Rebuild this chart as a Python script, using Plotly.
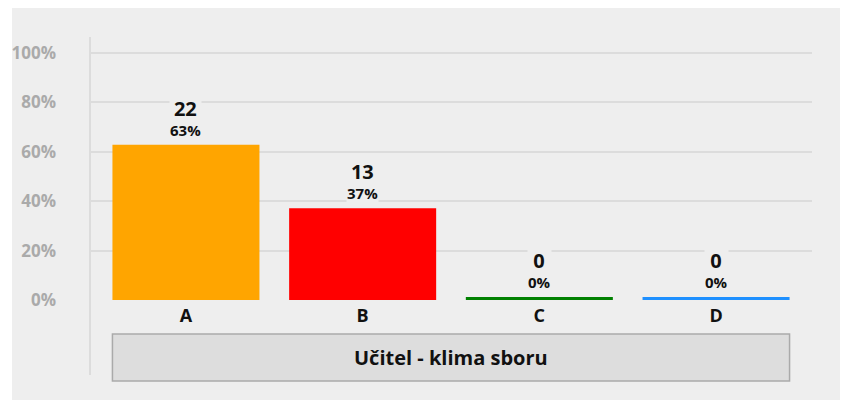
import plotly.graph_objects as go

# -------------------------
# Data
# -------------------------
CATEGORIES = ["A", "B", "C", "D"]
COUNTS = [22, 13, 0, 0]
COLORS = ["#ffa500", "#ff0000", "#008000", "#1e90ff"]
GROUP_LABEL = "Učitel - klima sboru"
Y_TICKS = [0, 20, 40, 60, 80, 100]

FONT = "Open Sans"
BG = "#eeeeee"
GRID = "#dcdcdc"

# page has an 8px body margin, so the figure is a bit smaller than the window
W, H = 840, 392
L, R, T, B = 82, 36, 29, 100
BAR_W = 0.832
MIN_BAR_PX = 3  # like a minimal point length, so empty bars stay visible


def main():
    total = sum(COUNTS)
    pcts = [c / total * 100 for c in COUNTS]

    ph = H - T - B
    pw = W - L - R
    y_max = ph / 247 * 100
    min_h = MIN_BAR_PX * y_max / ph
    shown = [max(p, min_h) for p in pcts]

    fig = go.Figure()
    fig.add_trace(go.Bar(
        x=CATEGORIES,
        y=shown,
        width=BAR_W,
        marker=dict(color=COLORS, line=dict(width=0)),
        hoverinfo="skip",
    ))

    # labels above bars: count + percent in one two-line label
    for cat, cnt, p in zip(CATEGORIES, COUNTS, shown):
        fig.add_annotation(
            x=cat, y=p, showarrow=False,
            text=(f"<span style='font-size:20px'><b>{cnt}</b></span><br>"
                  f"<b>{cnt / total * 100:.0f}%</b>"),
            yanchor="bottom", yshift=4, bgcolor=BG, borderpad=0,
            font=dict(family=FONT, size=15, color="#111111"),
        )

    def py(px_y):
        return (H - B - px_y) / ph

    def px(px_x):
        return (px_x - L) / pw

    # grey card background
    fig.add_shape(type="rect", xref="paper", yref="paper",
                  x0=px(4), x1=px(W + 5), y0=py(H + 5), y1=py(-2),
                  fillcolor=BG, line=dict(width=0), layer="below")
    # y axis line
    fig.add_shape(type="line", xref="paper", yref="paper",
                  x0=0, x1=0, y0=py(367), y1=1,
                  line=dict(color=GRID, width=2))
    # group label box
    fig.add_shape(type="rect", xref="x", yref="paper",
                  x0=-BAR_W / 2, x1=len(CATEGORIES) - 1 + BAR_W / 2,
                  y0=py(373), y1=py(326),
                  fillcolor="#dddddd", line=dict(color="#aaaaaa", width=1.5))
    fig.add_annotation(
        xref="x", yref="paper", x=(len(CATEGORIES) - 1) / 2, y=py(349.5),
        text=f"<b>{GROUP_LABEL}</b>", showarrow=False, yanchor="middle",
        font=dict(family=FONT, size=20, color="#111111"),
    )

    fig.update_layout(
        width=W, height=H,
        margin=dict(l=L, r=R, t=T, b=B, pad=0),
        paper_bgcolor="white",
        plot_bgcolor=BG,
        showlegend=False,
        font=dict(family=FONT),
        xaxis=dict(
            range=[-0.543, len(CATEGORIES) - 1 + 0.543],
            showgrid=False, zeroline=False, showline=False,
            automargin=False,
            ticks="", ticklabelstandoff=3,
            tickfont=dict(family=FONT, size=18, color="#111111", weight="bold"),
        ),
        yaxis=dict(
            range=[0, y_max],
            tickvals=Y_TICKS,
            ticktext=[f"{v}%" for v in Y_TICKS],
            showgrid=True, gridcolor=GRID, gridwidth=2,
            zeroline=False, automargin=False,
            showline=False, ticks="", ticklabelstandoff=33,
            tickfont=dict(family=FONT, size=17, color="#aaaaaa", weight="bold"),
        ),
    )

    fig.write_html("out.html")


if __name__ == "__main__":
    main()
